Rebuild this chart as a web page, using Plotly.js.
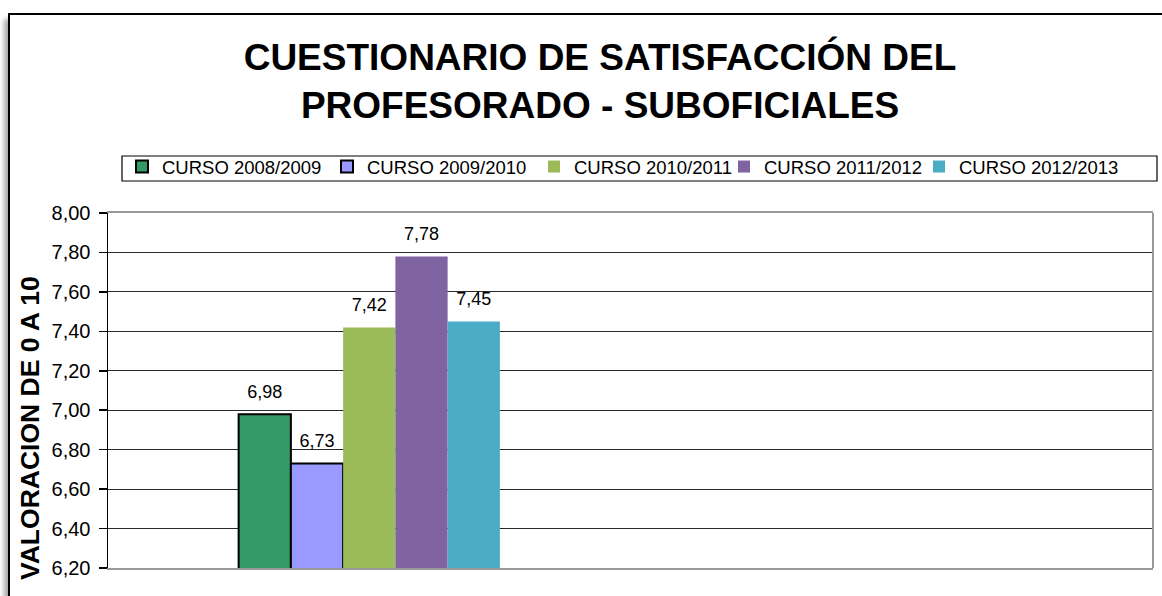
<!DOCTYPE html>
<html>
<head>
<meta charset="utf-8">
<script src="https://cdn.plot.ly/plotly-3.0.1.min.js"></script>
<style>
  html, body { margin:0; padding:0; overflow:hidden; background:#fff; width:1162px; height:596px; }
  #frame { position:absolute; left:8px; top:13px; width:1400px; height:900px; background:#fff;
           border-left:2px solid #000; border-top:2px solid #000;
           box-shadow:-4px 6px 5px rgba(0,0,0,0.35); z-index:0; }
  #chart { position:absolute; left:0; top:0; width:1162px; height:596px; z-index:1; }
</style>
</head>
<body>
<div id="frame"></div>
<div id="chart"></div>
<script>
// ---- data ----
var categories = ["SUBOFICIALES", "OTROS"];
var seriesNames = ["CURSO 2008/2009", "CURSO 2009/2010", "CURSO 2010/2011", "CURSO 2011/2012", "CURSO 2012/2013"];
var curso2008 = [6.98, null];
var curso2009 = [6.73, null];
var curso2010 = [7.42, null];
var curso2011 = [7.78, null];
var curso2012 = [7.45, null];
var yTicks = [6.2, 6.4, 6.6, 6.8, 7.0, 7.2, 7.4, 7.6, 7.8, 8.0];
var titleText = "CUESTIONARIO DE SATISFACCIÓN DEL<br>PROFESORADO - SUBOFICIALES";
var yTitleText = "VALORACION DE 0 A 10";

// ---- styles ----
var seriesValues = [curso2008, curso2009, curso2010, curso2011, curso2012];
var colors = ["#339966", "#9999FF", "#9BBB59", "#8064A2", "#4BACC6"];
var outlineW = [2, 2, 0, 0, 0];
var legendW = [160, 162, 145, 150, 170];
var FONT = "'Liberation Sans', Arial, sans-serif";

var traces = [];
seriesValues.forEach(function (vals, i) {
  traces.push({
    type: "bar", name: seriesNames[i], x: categories, y: vals,
    offsetgroup: "g" + i, legendwidth: legendW[i],
    marker: { color: colors[i], line: { color: "#000", width: outlineW[i] } },
    hoverinfo: "y"
  });
});
seriesValues.forEach(function (vals, i) {
  traces.push({
    type: "scatter", mode: "markers+text", x: categories, y: vals,
    offsetgroup: "g" + i, showlegend: false, hoverinfo: "skip", cliponaxis: false,
    marker: { size: 17, color: "rgba(0,0,0,0)" },
    texttemplate: "%{y:.2f}", textposition: "top center",
    textfont: { family: FONT, size: 18, color: "#000" }
  });
});

var plotL = 108, plotR = 1153, plotT = 213, plotB = 568;
function px2x(px) { return (px - plotL) / (plotR - plotL); }
function py2y(py) { return (plotB - py) / (plotB - plotT); }

var layout = {
  width: 1162, height: 596,
  margin: { l: plotL, r: 1162 - plotR, t: plotT, b: 596 - plotB, autoexpand: false },
  paper_bgcolor: "rgba(0,0,0,0)", plot_bgcolor: "#fff",
  separators: ",.",
  barmode: "group", bargap: 0.5, bargroupgap: 0,
  scattermode: "group",
  font: { family: FONT, color: "#000" },
  title: {
    text: titleText, xref: "container", x: 600 / 1162, xanchor: "center",
    yref: "container", y: 1 - 70 / 596, yanchor: "middle",
    font: { family: FONT, size: 37, weight: "bold", color: "#000" }
  },
  xaxis: {
    type: "category", showticklabels: false, ticks: "",
    showline: true, linecolor: "#999", linewidth: 2, mirror: true,
    showgrid: false, fixedrange: true
  },
  yaxis: {
    range: [6.2, 8.0], tickvals: yTicks, tickformat: ".2f",
    showline: true, linecolor: "#000", linewidth: 1.5,
    ticks: "outside", ticklen: 8, tickwidth: 1.5, tickcolor: "#000",
    ticklabelstandoff: 4,
    tickfont: { family: FONT, size: 20, color: "#000" },
    showgrid: true, gridcolor: "#2a2a2a", gridwidth: 1.2,
    zeroline: false, fixedrange: true
  },
  legend: {
    orientation: "h", xref: "paper", yref: "paper",
    x: px2x(122), xanchor: "left", y: py2y(148), yanchor: "top",
    bgcolor: "rgba(0,0,0,0)", borderwidth: 0,
    font: { family: FONT, size: 18.5, color: "#000" },
    itemwidth: 30, traceorder: "normal"
  },
  shapes: [
    { type: "line", xref: "paper", yref: "paper", x0: 1, x1: 1, y0: 0, y1: 1,
      line: { color: "#999", width: 2 } },
    { type: "rect", xref: "paper", yref: "paper", layer: "below",
      x0: px2x(122), x1: px2x(1157), y0: py2y(181), y1: py2y(156),
      fillcolor: "#fff", line: { color: "#000", width: 1.2 } }
  ],
  annotations: [
    { text: yTitleText, xref: "paper", yref: "paper",
      x: px2x(30), y: py2y(428), xanchor: "center", yanchor: "middle",
      textangle: -90, showarrow: false,
      font: { family: FONT, size: 26.5, weight: "bold", color: "#000" } }
  ]
};

Plotly.newPlot("chart", traces, layout, { displayModeBar: false, staticPlot: true });
</script>
</body>
</html>
